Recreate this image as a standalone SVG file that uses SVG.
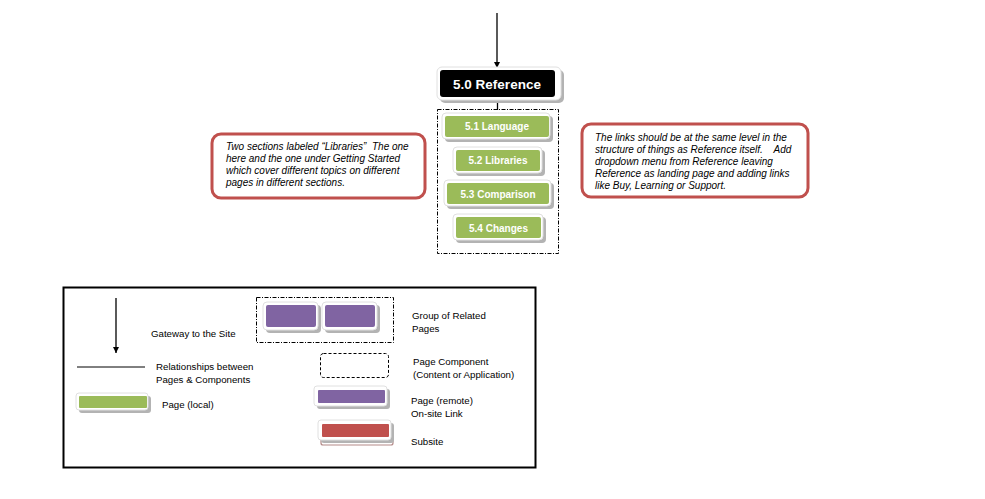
<svg xmlns="http://www.w3.org/2000/svg" width="985" height="499" viewBox="0 0 985 499">
<style>
.sh{fill:#b3b3b3}
.fr{fill:#ffffff;stroke:#e0e0e0;stroke-width:1}
.g{fill:#9BBB59}
.p{fill:#8064A2}
.r{fill:#C0504D}
.lbl{font-family:"Liberation Sans",Arial,sans-serif;font-weight:bold;fill:#ffffff;text-anchor:middle}
.note{fill:#ffffff;stroke:#C0504D;stroke-width:3}
.nt{font-family:"Liberation Sans",Arial,sans-serif;font-style:italic;font-size:10px;fill:#000000;white-space:pre}
.lt{font-family:"Liberation Sans",Arial,sans-serif;font-size:9.7px;fill:#000000}
.dash{fill:none;stroke:#000000;stroke-width:1;stroke-dasharray:4,1.5,1,1.5}
.ln{stroke:#000000;stroke-width:1.3;fill:none}
</style>
<defs>
<marker id="ah" viewBox="0 0 10 10" refX="10" refY="5" markerWidth="6" markerHeight="6" orient="auto" markerUnits="userSpaceOnUse">
<path d="M0,0 L10,5 L0,10 z" fill="#000000"/>
</marker>
</defs>
<rect width="985" height="499" fill="#ffffff"/>

<g id="connectors">
<line class="ln" x1="497" y1="13" x2="497" y2="68" marker-end="url(#ah)"/>
<line class="ln" x1="497.5" y1="101" x2="497.5" y2="110"/>
</g>

<g id="group-5x">
<rect class="dash" x="437.5" y="109.5" width="121" height="144"/>
</g>

<g id="n50">
<rect class="sh" x="440" y="70" width="124" height="33" rx="5"/>
<rect class="fr" x="437" y="67" width="124" height="33" rx="5"/>
<rect x="440" y="70" width="115" height="27" rx="3" fill="#000000"/>
<text class="lbl" x="497" y="88.5" font-size="13.5">5.0 Reference</text>
</g>

<g id="n51">
<rect class="sh" x="445" y="116" width="108" height="26" rx="4"/>
<rect class="fr" x="442" y="113" width="108" height="26" rx="4"/>
<rect class="g" x="445" y="116" width="104" height="21" rx="2"/>
<text class="lbl" x="497" y="130" font-size="10">5.1 Language</text>
</g>

<g id="n52">
<rect class="sh" x="456" y="150" width="89" height="26" rx="4"/>
<rect class="fr" x="453" y="147" width="89" height="26" rx="4"/>
<rect class="g" x="456" y="150" width="84" height="21" rx="2"/>
<text class="lbl" x="498" y="164" font-size="10">5.2 Libraries</text>
</g>

<g id="n53">
<rect class="sh" x="447" y="183" width="107" height="26" rx="4"/>
<rect class="fr" x="444" y="180" width="107" height="26" rx="4"/>
<rect class="g" x="447" y="183" width="102" height="21" rx="2"/>
<text class="lbl" x="498" y="197.5" font-size="10">5.3 Comparison</text>
</g>

<g id="n54">
<rect class="sh" x="456" y="217" width="90" height="26" rx="4"/>
<rect class="fr" x="453" y="214" width="90" height="26" rx="4"/>
<rect class="g" x="456" y="217" width="85" height="21" rx="2"/>
<text class="lbl" x="498.5" y="231.5" font-size="10">5.4 Changes</text>
</g>

<g id="note-left">
<rect class="note" x="212" y="134" width="213" height="64" rx="9"/>
<text class="nt" x="226" y="150" xml:space="preserve">Two sections labeled “Libraries”  The one</text>
<text class="nt" x="226" y="162">here and the one under Getting Started</text>
<text class="nt" x="226" y="174">which cover different topics on different</text>
<text class="nt" x="226" y="186">pages in different sections.</text>
</g>

<g id="note-right">
<rect class="note" x="582" y="124" width="226" height="73" rx="9"/>
<text class="nt" x="595" y="141">The links should be at the same level in the</text>
<text class="nt" x="595" y="153" xml:space="preserve">structure of things as Reference itself.    Add</text>
<text class="nt" x="595" y="165">dropdown menu from Reference leaving</text>
<text class="nt" x="595" y="177">Reference as landing page and adding links</text>
<text class="nt" x="595" y="189">like Buy, Learning or Support.</text>
</g>

<g id="legend">
<rect x="63.5" y="287.5" width="472" height="180" fill="#ffffff" stroke="#000000" stroke-width="2"/>
<line class="ln" x1="116" y1="298" x2="116" y2="353" marker-end="url(#ah)"/>
<text class="lt" x="151" y="337">Gateway to the Site</text>
<line x1="77" y1="367" x2="145" y2="367" stroke="#000000" stroke-width="1"/>
<text class="lt" x="156" y="370">Relationships between</text>
<text class="lt" x="156" y="383">Pages &amp; Components</text>
<rect class="sh" x="79" y="396" width="72" height="17" rx="3"/>
<rect class="fr" x="76" y="393" width="72" height="17" rx="3"/>
<rect class="g" x="79" y="396" width="68" height="12" rx="1"/>
<text class="lt" x="162" y="408">Page (local)</text>

<rect class="dash" x="256.5" y="297.5" width="137" height="45"/>
<rect class="sh" x="266" y="305" width="55" height="28" rx="4"/>
<rect class="fr" x="263" y="302" width="55" height="28" rx="4"/>
<rect class="p" x="266" y="305" width="50" height="22" rx="2"/>
<rect class="sh" x="325" y="305" width="55" height="28" rx="4"/>
<rect class="fr" x="322" y="302" width="55" height="28" rx="4"/>
<rect class="p" x="325" y="305" width="50" height="22" rx="2"/>
<text class="lt" x="412" y="319">Group of Related</text>
<text class="lt" x="412" y="332">Pages</text>

<rect x="320.5" y="353.5" width="68" height="24" rx="3" fill="none" stroke="#000000" stroke-width="1" stroke-dasharray="3,2"/>
<text class="lt" x="413" y="365">Page Component</text>
<text class="lt" x="413" y="378">(Content or Application)</text>

<rect class="sh" x="317" y="389" width="73" height="20" rx="3"/>
<rect class="fr" x="314" y="386" width="73" height="20" rx="3"/>
<rect class="p" x="318" y="390" width="67" height="13" rx="1"/>
<text class="lt" x="411" y="404">Page (remote)</text>
<text class="lt" x="411" y="417">On-site Link</text>

<rect x="321" y="427" width="72" height="18" rx="2" fill="#ffffff" stroke="#b38a88" stroke-width="1.2"/>
<rect class="sh" x="321" y="423" width="73" height="20" rx="3"/>
<rect class="fr" x="318" y="420" width="73" height="20" rx="3"/>
<rect class="r" x="322" y="424" width="67" height="13" rx="1"/>
<text class="lt" x="411" y="445">Subsite</text>
</g>
</svg>
